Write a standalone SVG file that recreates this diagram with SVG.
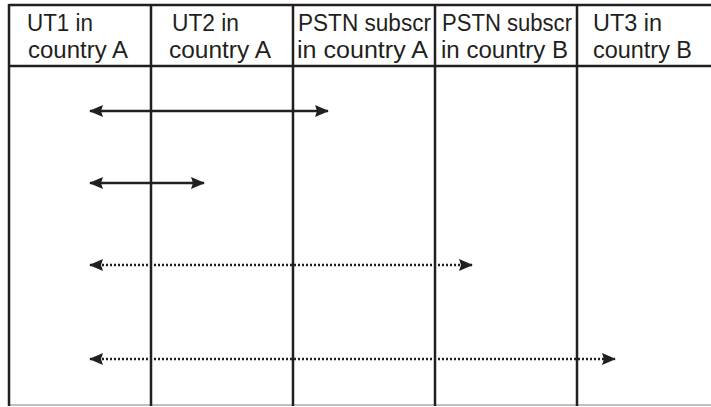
<svg xmlns="http://www.w3.org/2000/svg" width="711" height="407" viewBox="0 0 711 407">
<style>
.grid{stroke:#231f20;stroke-width:2.5;fill:none}
.lbl{font-family:"Liberation Sans",Arial,sans-serif;font-size:23px;fill:#231f20}
.conn{stroke:#231f20;stroke-width:2.5;fill:none}
.dot{stroke-dasharray:2 2}
</style>
<defs>
<marker id="ah" viewBox="0 0 14 12" refX="13" refY="6" markerWidth="14" markerHeight="12" markerUnits="userSpaceOnUse" orient="auto-start-reverse">
<path d="M0,0 L14,6 L0,12 L2,6 z" fill="#231f20"/>
</marker>
</defs>
<rect width="711" height="407" fill="#fff"/>
<g id="grid">
<line class="grid" x1="9" y1="5" x2="711" y2="5"/>
<line class="grid" x1="9" y1="66" x2="711" y2="66"/>
<line x1="9" y1="405" x2="711" y2="405" stroke="#aaa" stroke-width="1.5"/>
<line class="grid" x1="9" y1="4" x2="9" y2="406"/>
</g>
<g id="col1">
<text class="lbl" x="27" y="31" textLength="66" lengthAdjust="spacingAndGlyphs">UT1 in</text>
<text class="lbl" x="28" y="58" textLength="100" lengthAdjust="spacingAndGlyphs">country A</text>
</g>
<g id="col2">
<line class="grid" x1="151" y1="5" x2="151" y2="406"/>
<text class="lbl" x="172" y="31" textLength="67" lengthAdjust="spacingAndGlyphs">UT2 in</text>
<text class="lbl" x="169" y="58" textLength="102" lengthAdjust="spacingAndGlyphs">country A</text>
</g>
<g id="col3">
<line class="grid" x1="293" y1="5" x2="293" y2="406"/>
<text class="lbl" x="298" y="31" textLength="133" lengthAdjust="spacingAndGlyphs">PSTN subscr</text>
<text class="lbl" x="297" y="58" textLength="131" lengthAdjust="spacingAndGlyphs">in country A</text>
</g>
<g id="col4">
<line class="grid" x1="435" y1="5" x2="435" y2="406"/>
<text class="lbl" x="442" y="31" textLength="130" lengthAdjust="spacingAndGlyphs">PSTN subscr</text>
<text class="lbl" x="441" y="58" textLength="127" lengthAdjust="spacingAndGlyphs">in country B</text>
</g>
<g id="col5">
<line class="grid" x1="577" y1="5" x2="577" y2="406"/>
<text class="lbl" x="593" y="31" textLength="69" lengthAdjust="spacingAndGlyphs">UT3 in</text>
<text class="lbl" x="593" y="58" textLength="99" lengthAdjust="spacingAndGlyphs">country B</text>
</g>
<g id="connectors">
<line class="conn" x1="90" y1="111" x2="328" y2="111" marker-start="url(#ah)" marker-end="url(#ah)"/>
<line class="conn" x1="90" y1="183" x2="204" y2="183" marker-start="url(#ah)" marker-end="url(#ah)"/>
<line class="conn dot" x1="90" y1="265" x2="472" y2="265" marker-start="url(#ah)" marker-end="url(#ah)"/>
<line class="conn dot" x1="90" y1="359" x2="615" y2="359" marker-start="url(#ah)" marker-end="url(#ah)"/>
</g>
</svg>
